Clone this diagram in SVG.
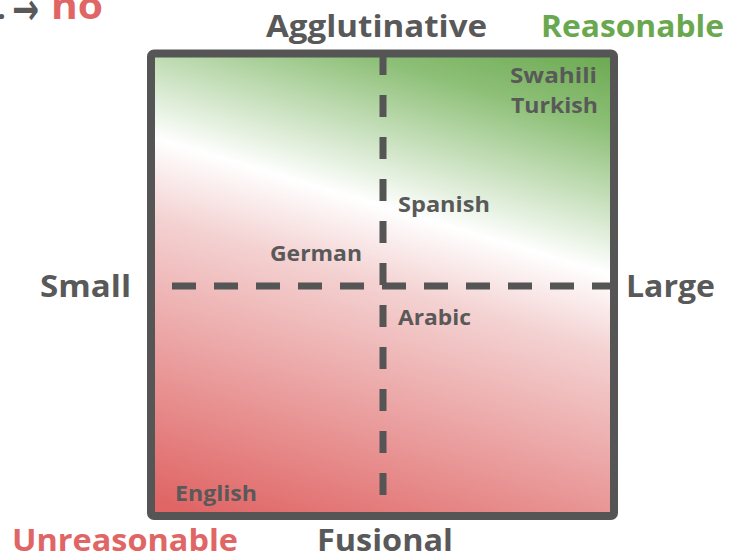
<svg xmlns="http://www.w3.org/2000/svg" width="732" height="553" viewBox="0 0 732 553">
<style>
text{font-family:"Open Sans",Lato,"Liberation Sans",sans-serif;font-weight:bold;fill:#595959}
.ax{font-size:31px}
.lang{font-size:21px}
.red{fill:#e06666}
.green{fill:#6aa84f}
.dash{stroke:#555555;stroke-width:7;fill:none}
</style>
<defs>
<linearGradient id="bg" gradientUnits="userSpaceOnUse" x1="614" y1="53" x2="449" y2="605">
<stop offset="0" stop-color="#6aa84f"/>
<stop offset="0.13" stop-color="#8ec078"/>
<stop offset="0.37" stop-color="#ffffff"/>
<stop offset="0.5" stop-color="#f4d2d2"/>
<stop offset="0.97" stop-color="#e06666"/>
</linearGradient>
</defs>
<g id="title">
<text class="ax" x="-3" y="19">.</text>
<text x="12" y="24" style="font-size:44px;font-family:'DejaVu Sans',sans-serif" textLength="27" lengthAdjust="spacingAndGlyphs">→</text>
<text class="ax red" x="51" y="19" style="font-size:38px" textLength="52" lengthAdjust="spacingAndGlyphs">no</text>
</g>
<g id="quadrant">
<rect x="151" y="53.5" width="463" height="462.5" rx="3" fill="url(#bg)" stroke="#555555" stroke-width="8"/>
</g>
<g id="connectors">
<line class="dash" x1="383" y1="53" x2="383" y2="497" stroke-dasharray="22 20"/>
<line class="dash" x1="172" y1="286" x2="614" y2="286" stroke-dasharray="24 18"/>
</g>
<g id="axis-labels">
<text class="ax" x="266" y="37" textLength="221" lengthAdjust="spacingAndGlyphs">Agglutinative</text>
<text class="ax green" x="541" y="37" textLength="183" lengthAdjust="spacingAndGlyphs">Reasonable</text>
<text class="ax" x="40" y="297" textLength="91" lengthAdjust="spacingAndGlyphs">Small</text>
<text class="ax" x="626" y="297" textLength="89" lengthAdjust="spacingAndGlyphs">Large</text>
<text class="ax red" x="12" y="551" textLength="226" lengthAdjust="spacingAndGlyphs">Unreasonable</text>
<text class="ax" x="317" y="551" textLength="136" lengthAdjust="spacingAndGlyphs">Fusional</text>
</g>
<g id="languages">
<text class="lang" x="510" y="83" textLength="87" lengthAdjust="spacingAndGlyphs">Swahili</text>
<text class="lang" x="511" y="113" textLength="87" lengthAdjust="spacingAndGlyphs">Turkish</text>
<text class="lang" x="398" y="212" textLength="92" lengthAdjust="spacingAndGlyphs">Spanish</text>
<text class="lang" x="270" y="261" textLength="92" lengthAdjust="spacingAndGlyphs">German</text>
<text class="lang" x="398" y="325" textLength="73" lengthAdjust="spacingAndGlyphs">Arabic</text>
<text class="lang" x="175" y="501" textLength="82" lengthAdjust="spacingAndGlyphs">English</text>
</g>
</svg>
